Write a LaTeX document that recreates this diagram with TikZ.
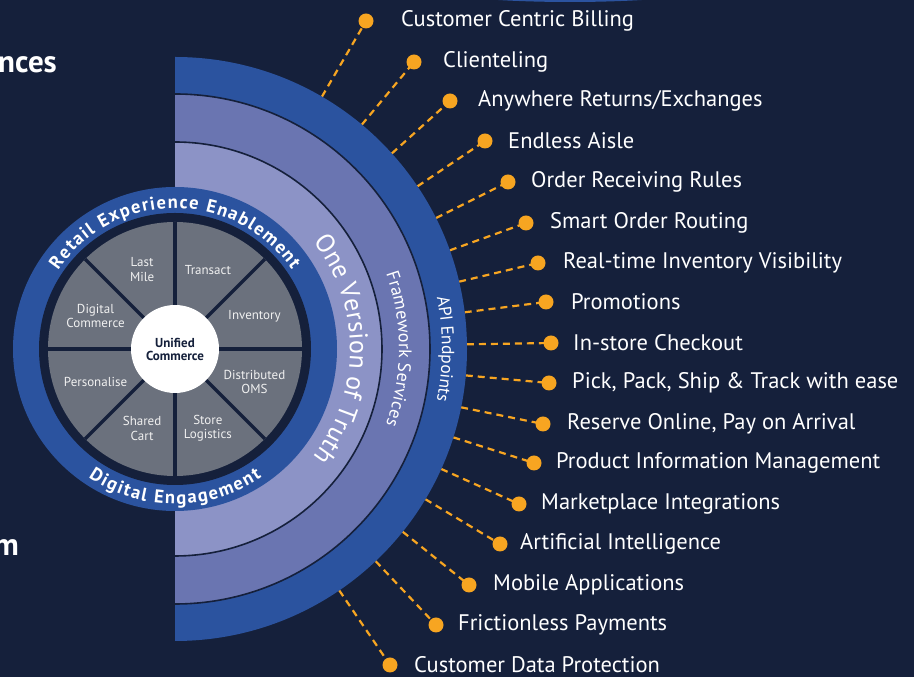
\documentclass[tikz,border=0pt]{standalone}
\usepackage{fontspec}
\setmainfont{PT Sans}
\usetikzlibrary{calc,decorations.text}

\definecolor{navy}{HTML}{15203B}
\definecolor{bandblue}{HTML}{2B539F}
\definecolor{bandmid}{HTML}{6A75B1}
\definecolor{bandlight}{HTML}{8C93C6}
\definecolor{wheelgray}{HTML}{6B717D}
\definecolor{dotorange}{HTML}{F7A521}

\begin{document}
\begin{tikzpicture}[x=1pt,y=1pt,
    feature/.style={anchor=west,text=white,inner sep=0pt,
                    font=\fontsize{22.5}{22.5}\selectfont},
    seg/.style={text=white!88!gray,align=center,
                font=\fontsize{13}{14.5}\selectfont},
    dot/.style={circle,fill=dotorange,minimum size=15pt,inner sep=0pt},
    link/.style={dotorange,line width=2.2pt,dash pattern=on 7pt off 5pt},
    band/.style={navy,line width=1.6pt},
    cut/.style={anchor=east,text=white,inner sep=0pt,
                font=\bfseries\fontsize{31}{31}\selectfont}]

	  % background and page size
	  \fill[navy] (0,0) rectangle (914,677);
	  \useasboundingbox (0,0) rectangle (914,677);
	  \clip (0,0) rectangle (914,677);
	  \coordinate (C) at (175,328);

	  \fill[bandblue] (570,702) ellipse [x radius=190, y radius=27];
	  \node[cut] (w1) at (57,612) {nces};
	  \node[cut] (w2) at (19,129) {m};

	  % features with dashed links
	  \foreach \i/\x/\y/\tx/\txt in {
	      1/366/656/401/{Customer Centric Billing},
	      2/414/615/443/{Clienteling},
	      3/450/576/478/{Anywhere Returns/Exchanges},
	      4/485/536/508/{Endless Aisle},
	      5/508/495/531/{Order Receiving Rules},
	      6/526/454/550/{Smart Order Routing},
	      7/538/414/563/{Real-time Inventory Visibility},
	      8/546/375/571/{Promotions},
	      9/551/334/573/{In-store Checkout},
	      10/549/294/572/{Pick, Pack, Ship \& Track with ease},
	      11/543/253/567/{Reserve Online, Pay on Arrival},
	      12/534/214/556/{Product Information Management},
	      13/519/173/541/{Marketplace Integrations},
	      14/500/133/520/{Artificial Intelligence},
	      15/469/92/493/{Mobile Applications},
	      16/436/52/458/{Frictionless Payments},
	      17/390/12/414/{Customer Data Protection}}{
	    \coordinate (d\i) at (\x,\y);
	    \draw[link] ($(C)!292pt!(d\i)$) -- (d\i);
	    \node[dot] (dot\i) at (d\i) {};
	    \node[feature] (t\i) at (\tx,\y) {\txt};
	  }

	  % half rings
	  \fill[bandblue] (C) ++(90:292) arc[start angle=90,end angle=-90,radius=292] -- cycle;
	  \fill[bandmid] (C) ++(90:255) arc[start angle=90,end angle=-90,radius=255] -- cycle;
	  \draw[band] (C) ++(90:255) arc[start angle=90,end angle=-90,radius=255];
	  \fill[bandlight] (C) ++(90:207) arc[start angle=90,end angle=-90,radius=207] -- cycle;
	  \draw[band] (C) ++(90:207) arc[start angle=90,end angle=-90,radius=207];

	  \path[decorate,decoration={text along path,text align=center,text color=white,
	        text={|\fontsize{26}{26}\selectfont|One Version of Truth}}]
	        (C) ++(50:175) arc[start angle=50,end angle=-50,radius=175];
	  \path[decorate,decoration={text along path,text align=center,text color=white,
	        text={|\fontsize{18}{18}\selectfont|Framework Services}}]
	        (C) ++(40:224) arc[start angle=40,end angle=-40,radius=224];
	  \path[decorate,decoration={text along path,text align=center,text color=white,
	        text={|\fontsize{17.5}{17.5}\selectfont|API Endpoints}}]
	        (C) ++(35:267) arc[start angle=35,end angle=-35,radius=267];

	  % wheel
	  \fill[bandblue] (C) circle[radius=162];
	  \fill[navy] (C) circle[radius=136];
	  \fill[wheelgray] (C) circle[radius=127];
	  \foreach \a in {0,45,...,315}
	    \draw[navy,line width=3.5pt] (C) -- ++(\a:127);

	  \foreach \k/\txt in {0/{Inventory},1/{Transact},2/{Last\\Mile},
	      3/{Digital\\Commerce},4/{Personalise},5/{Shared\\Cart},
	      6/{Store\\Logistics},7/{Distributed\\OMS}}
	    \node[seg] (seg\k) at ($(C)+({22.5+45*\k}:86)$) {\txt};

	  \node[circle,fill=white,minimum size=88pt,inner sep=0pt,text=navy,align=center,
	        font=\bfseries\fontsize{13}{13}\selectfont] (hub) at (C) {Unified\\Commerce};

	  \path[decorate,decoration={text along path,text align={fit to path},text color=white,
	        text={|\bfseries\fontsize{18.5}{18.5}\selectfont|Retail Experience Enablement}}]
	        (C) ++(146:141) arc[start angle=146,end angle=34,radius=141];
	  \path[decorate,decoration={text along path,text align={fit to path},text color=white,
	        text={|\bfseries\fontsize{18.5}{18.5}\selectfont|Digital Engagement}}]
	        (C) ++(236:155) arc[start angle=236,end angle=304,radius=155];
\end{tikzpicture}
\end{document}
